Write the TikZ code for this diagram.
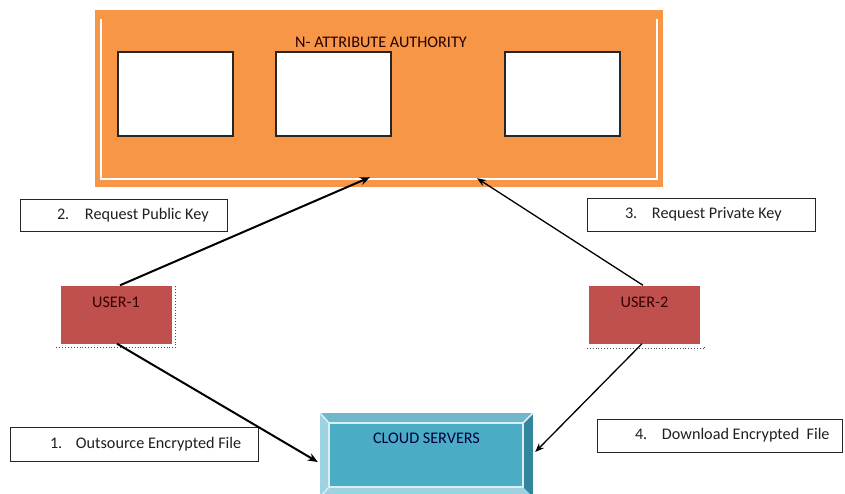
\documentclass[tikz,border=0pt]{standalone}
\usepackage{fontspec}
\setmainfont{Carlito}
\usetikzlibrary{arrows.meta,calc}
\definecolor{aaorange}{HTML}{F79646}
\definecolor{userred}{HTML}{C0504D}
\definecolor{cloudface}{HTML}{4BACC6}
\definecolor{cloudtop}{HTML}{6FB8CC}
\definecolor{cloudside}{HTML}{9ED2E0}
\definecolor{clouddark}{HTML}{31859C}
\definecolor{cloudline}{HTML}{DAEEF3}
\definecolor{txtdark}{HTML}{202020}
\begin{document}
\begin{tikzpicture}[x=1pt,y=-1pt,
  every node/.style={font=\fontsize{16.2}{18}\selectfont, text=txtdark},
  authority/.style={rectangle, fill=aaorange, minimum width=568pt, minimum height=177pt, inner sep=0pt},
  attrbox/.style={rectangle, draw=black!85, line width=1.1pt, fill=white, minimum width=115pt, minimum height=84pt, inner sep=0pt},
  userbox/.style={rectangle, fill=userred, minimum width=111pt, minimum height=58pt, inner sep=0pt},
  cloudbox/.style={rectangle, fill=clouddark, minimum width=213pt, minimum height=84pt, inner sep=0pt,
    path picture={
      \coordinate (pnw) at (path picture bounding box.north west);
      \coordinate (pne) at (path picture bounding box.north east);
      \coordinate (psw) at (path picture bounding box.south west);
      \coordinate (pse) at (path picture bounding box.south east);
      \coordinate (inw) at ([shift={(9pt,-10pt)}]pnw);
      \coordinate (ine) at ([shift={(-10pt,-10pt)}]pne);
      \coordinate (isw) at ([shift={(9pt,10pt)}]psw);
      \coordinate (ise) at ([shift={(-10pt,10pt)}]pse);
      \fill[cloudtop] (pnw) -- (pne) -- (ine) -- (inw) -- cycle;
      \fill[cloudside] (pnw) -- (inw) -- (isw) -- (psw) -- cycle;
      \fill[cloudside] (psw) -- (isw) -- (ise) -- (pse) -- cycle;
      \fill[cloudface] (inw) rectangle (ise);
      \draw[cloudline, line width=2pt] (inw) rectangle (ise);
      \draw[cloudline, line width=1.5pt] (pnw) -- (inw) (pne) -- (ine) (psw) -- (isw);
    }},
  lblbox/.style={rectangle, draw=black!85, line width=1pt, fill=white, inner sep=0pt, text height=10pt, text depth=2pt},
  arr/.style={-{Stealth[length=10pt,width=8pt]}, line width=2pt, black},
  arrthin/.style={-{Stealth[length=9pt,width=7pt]}, line width=1.3pt, black},
  shadowdot/.style={dotted, line width=0.9pt, black!70}
]
\useasboundingbox (0,0) rectangle (845,493);
\clip (0,0) rectangle (845,493);

% Attribute authority
\node[authority] (aa) at (379,98.5) {};
\draw[white, line width=2pt] ([xshift=6pt,yshift=-9pt]aa.north west) -- ([xshift=6pt,yshift=8pt]aa.south west)
  -- ([xshift=-6pt,yshift=8pt]aa.south east) -- ([xshift=-6pt,yshift=-9pt]aa.north east);
\node[inner sep=0pt, anchor=center, text=black!85!red] (aatitle) at (381,42) {N- ATTRIBUTE AUTHORITY};
\node[attrbox] (b1) at (175.5,94) {};
\node[attrbox] (b2) at (333.5,94) {};
\node[attrbox] (b3) at (562.5,94) {};

% Users
\node[userbox, label={[inner sep=0pt, anchor=center, yshift=-17pt, text=black!80!red]north:USER-1}] (u1) at (116,314.5) {};
\draw[shadowdot] ([xshift=-4pt,yshift=-4pt]u1.south west) -- ([xshift=4pt,yshift=-4pt]u1.south east) -- ([xshift=4pt]u1.north east);
\node[userbox, label={[inner sep=0pt, anchor=center, yshift=-17pt, text=black!80!red]north:USER-2}] (u2) at (644.5,314.5) {};
\draw[shadowdot] ([xshift=-2pt,yshift=-5pt]u2.south west) -- ([xshift=4pt,yshift=-5pt]u2.south east) -- ([xshift=4pt,yshift=-3pt]u2.south east);

% Cloud servers
\node[cloudbox, label={[inner sep=0pt, anchor=center, yshift=-25pt, text=black!75!blue]north:CLOUD SERVERS}] (cs) at (426.5,455) {};

% Labels
\node[lblbox, minimum width=207pt, minimum height=32pt] (l2) at (123.5,215)
  {\makebox[207pt][l]{\hspace{37pt}\makebox[28pt][l]{2.}Request Public Key}};
\node[lblbox, minimum width=228pt, minimum height=33pt] (l3) at (701,214.5)
  {\makebox[228pt][l]{\hspace{38pt}\makebox[27pt][l]{3.}Request Private Key}};
\node[lblbox, minimum width=248pt, minimum height=34pt] (l1) at (134,444)
  {\makebox[248pt][l]{\hspace{40pt}\makebox[26pt][l]{1.}Outsource Encrypted File}};
\node[lblbox, minimum width=245pt, minimum height=33pt] (l4) at (719.5,435.5)
  {\makebox[245pt][l]{\hspace{38pt}\makebox[27pt][l]{4.}Download Encrypted\ \ File}};

% Connectors
\draw[arr] ([xshift=4pt]u1.north) -- ([xshift=-9pt,yshift=10pt]aa.south);
\draw[arrthin] ([xshift=-1.5pt]u2.north) -- ([xshift=98pt,yshift=9pt]aa.south);
\draw[arr] ([xshift=1pt]u1.south) -- ([xshift=-2pt,yshift=-7pt]cs.west);
\draw[arrthin] ([xshift=-2.5pt]u2.south) -- ([xshift=2pt,yshift=3pt]cs.east);
\end{tikzpicture}
\end{document}
